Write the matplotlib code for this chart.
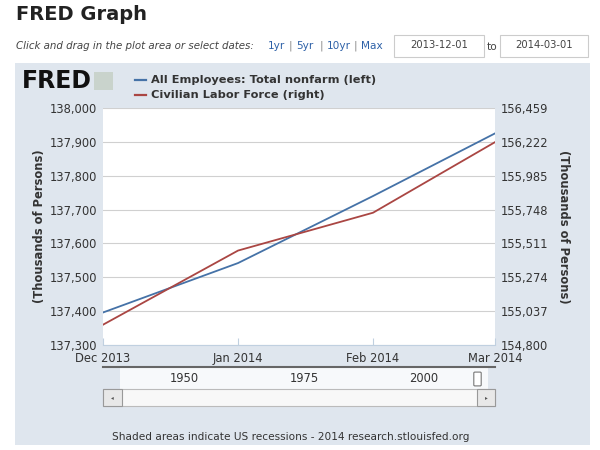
import matplotlib
matplotlib.use("Agg")
import matplotlib.pyplot as plt
import matplotlib.dates as mdates
from matplotlib.patches import Rectangle, FancyBboxPatch
from datetime import datetime

# ---- data ----
months = ["2013-12-01", "2014-01-01", "2014-02-01", "2014-03-01"]
month_labels = ["Dec 2013", "Jan 2014", "Feb 2014", "Mar 2014"]
nonfarm = [137396, 137542, 137740, 137925]          # left axis
labor_force = [154942, 155461, 155726, 156220]      # right axis
left_ticks = [137300, 137400, 137500, 137600, 137700, 137800, 137900, 138000]
right_ticks = [154800, 155037, 155274, 155511, 155748, 155985, 156222, 156459]
nav_years = [1950, 1975, 2000]
series_names = ["All Employees: Total nonfarm (left)", "Civilian Labor Force (right)"]

W, H = 600, 450
fig = plt.figure(figsize=(6, 4.5), dpi=100)
fig.patch.set_facecolor("white")

def fx(x):
    return x / W

def fy(y):
    return 1 - y / H

def box(x0, y0, x1, y1):
    return [fx(x0), fy(y1), fx(x1 - x0), (y1 - y0) / H]

BLUE = "#4572a7"
RED = "#aa4643"
TXT = "#333333"
PANEL = "#dfe6ee"

# panel background
fig.patches.append(Rectangle((fx(15), fy(445)), fx(575), 382 / H, transform=fig.transFigure,
                             facecolor=PANEL, edgecolor="none", zorder=-10))

# header
fig.text(fx(16), fy(14), "FRED Graph", fontsize=14, fontweight="bold", color="#222222",
         va="center", ha="left")
fig.text(fx(16), fy(46), "Click and drag in the plot area or select dates:", fontsize=7.35,
         style="italic", color="#444444", va="center", ha="left")
links = ["1yr", "5yr", "10yr", "Max"]
xpos = [268, 296, 327, 361]
for i, (lk, xp) in enumerate(zip(links, xpos)):
    fig.text(fx(xp), fy(46), lk, fontsize=7.6, color="#2f62a8", va="center", ha="left")
    if i < len(links) - 1:
        fig.text(fx(xpos[i + 1] - 7), fy(46), "|", fontsize=7.6, color="#888888",
                 va="center", ha="left")
for (x0, x1, s) in [(394, 484, "2013-12-01"), (500, 588, "2014-03-01")]:
    fig.patches.append(Rectangle((fx(x0), fy(57)), fx(x1 - x0), 22 / H, transform=fig.transFigure,
                                 facecolor="white", edgecolor="#cccccc", lw=0.8))
    fig.text(fx((x0 + x1) / 2), fy(45), s, fontsize=7.2, color="#444444", va="center", ha="center")
fig.text(fx(492), fy(47), "to", fontsize=7.6, color="#444444", va="center", ha="center")

# FRED logo
fig.text(fx(22), fy(81), "FRED", fontsize=17, fontweight="heavy", color="#111111",
         va="center", ha="left", family="DejaVu Sans")
fig.patches.append(Rectangle((fx(94), fy(90)), fx(19), 18 / H, transform=fig.transFigure,
                             facecolor="#c9d3cc", edgecolor="none", zorder=-5))

# legend
for i, (name, col) in enumerate(zip(series_names, [BLUE, RED])):
    yy = 80 + i * 15
    fig.add_artist(plt.Line2D([fx(135), fx(146)], [fy(yy), fy(yy)], color=col, lw=1.6,
                              transform=fig.transFigure))
    fig.text(fx(151), fy(yy), name, fontsize=8.2, fontweight="bold", color=TXT,
             va="center", ha="left")

# main axes
x = mdates.date2num([datetime.strptime(m, "%Y-%m-%d") for m in months])
ax = fig.add_axes(box(103, 108, 495, 345))
ax.set_facecolor("white")
ax.plot(x, nonfarm, color=BLUE, lw=1.3, zorder=3)
ax.set_xlim(x[0], x[-1])
ax.set_ylim(left_ticks[0], left_ticks[-1])
ax.set_yticks(left_ticks)
ax.set_yticklabels([f"{v:,}" for v in left_ticks], fontsize=8.3, color=TXT)
ax.grid(axis="y", color="#d0d0d0", lw=0.8)
ax.set_xticks(x)
ax.set_xticklabels(month_labels, fontsize=8.3, color=TXT)
ax.tick_params(axis="x", direction="in", length=5, color="#c0d0e0", pad=5)
ax.tick_params(axis="y", length=0, pad=4)
for s in ["top", "left", "right"]:
    ax.spines[s].set_visible(False)
ax.spines["bottom"].set_color("#c0d0e0")
ax.set_ylabel("(Thousands of Persons)", fontsize=8.3, fontweight="bold", color=TXT, labelpad=3)

ax2 = ax.twinx()
ax2.plot(x, labor_force, color=RED, lw=1.3, zorder=3)
ax2.set_ylim(right_ticks[0], right_ticks[-1])
ax2.set_yticks(right_ticks)
ax2.set_yticklabels([f"{v:,}" for v in right_ticks], fontsize=8.3, color=TXT)
ax2.tick_params(axis="y", length=0, pad=4)
for s in ["top", "left", "right", "bottom"]:
    ax2.spines[s].set_visible(False)
ax2.set_ylabel("(Thousands of Persons)", fontsize=8.3, fontweight="bold", color=TXT,
               rotation=270, labelpad=16)

# navigator
nav = fig.add_axes(box(103, 367, 495, 389))
nav.set_facecolor("none")
nav.set_xlim(1932.9, 2014.9)
nav.set_ylim(0, 1)
nav.add_patch(Rectangle((1936.4, 0), 2013.5 - 1936.4, 1, facecolor="#f7f9fb", edgecolor="none"))
nav.set_xticks(nav_years)
nav.set_xticklabels([str(v) for v in nav_years], fontsize=8.3, color=TXT)
nav.tick_params(axis="x", direction="in", pad=-12, length=0)
nav.set_yticks([])
for s in ["left", "right", "bottom"]:
    nav.spines[s].set_visible(False)
nav.spines["top"].set_color("#666666")
nav.spines["top"].set_linewidth(1.5)

# scrollbar
fig.patches.append(Rectangle((fx(103), fy(406)), fx(392), 17 / H, transform=fig.transFigure,
                             facecolor="#f8f8f8", edgecolor="#bbbbbb", lw=0.8))
for (x0, x1, ch) in [(103, 122, "◂"), (477, 495, "▸")]:
    fig.patches.append(Rectangle((fx(x0), fy(406)), fx(x1 - x0), 17 / H, transform=fig.transFigure,
                                 facecolor="#e8e8e8", edgecolor="#999999", lw=0.8))
    fig.text(fx((x0 + x1) / 2), fy(397.5), ch, fontsize=4, color="#555555", va="center", ha="center")
fig.patches.append(FancyBboxPatch((fx(475), fy(385)), fx(5), 12 / H,
                                  boxstyle="round,pad=0.002", transform=fig.transFigure,
                                  facecolor="white", edgecolor="#777777", lw=0.8))

# footnote
fig.text(fx(112), fy(437), "Shaded areas indicate US recessions - 2014 research.stlouisfed.org",
         fontsize=7.6, color=TXT, va="center", ha="left")

fig.savefig("out.png", dpi=100)
